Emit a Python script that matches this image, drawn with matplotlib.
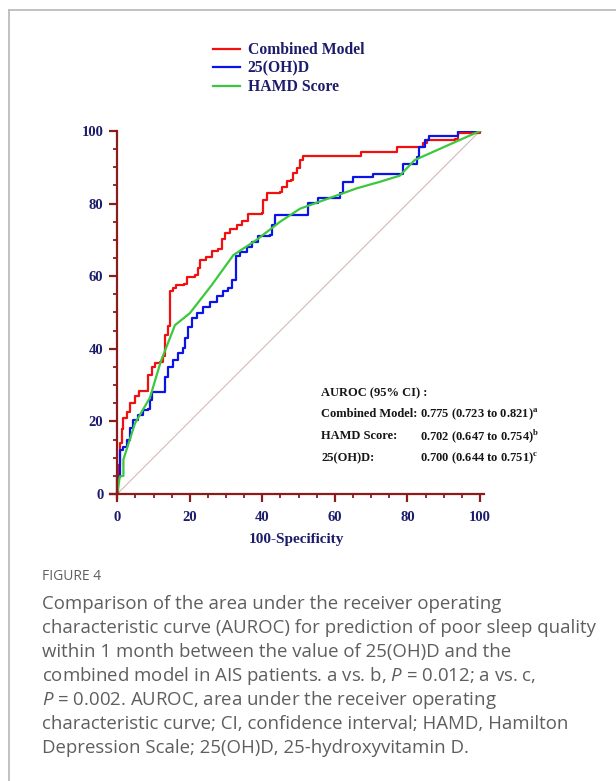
import matplotlib
matplotlib.use("Agg")
import matplotlib.pyplot as plt
from matplotlib.ticker import MultipleLocator

plt.rcParams['mathtext.fontset'] = 'custom'
plt.rcParams['mathtext.rm'] = 'Open Sans'
plt.rcParams['mathtext.it'] = 'Open Sans:italic'
plt.rcParams['mathtext.bf'] = 'Liberation Serif:bold'

# ROC curves (100-Specificity, Sensitivity)
combined_x = [0, 0.3, 0.7, 1.2, 1.7, 2.6, 3.5, 4.8, 6.1, 7.6, 8.5, 9.5, 10.4, 11.8, 12.5, 13.1,
              14.1, 14.5, 15.4, 16.3, 18.5, 19.1, 21.5, 22.3, 22.8, 24.6, 26, 27.7, 28.8, 29.7,
              31.1, 32.9, 34.3, 36.1, 39.8, 40.3, 41.2, 44.9, 45.3, 46.7, 48, 48.5, 49.5, 50.4,
              51.3, 66.9, 67.2, 76.6, 77, 83.9, 84.4, 85.3, 93.1, 94, 100]
combined_y = [0, 8, 14, 18, 21, 22.6, 25, 27, 28.3, 28.3, 32.8, 35, 36, 36.3, 38, 43.8,
              46.3, 56, 56.8, 57.6, 57.8, 59.9, 60.2, 62.3, 64.5, 65.2, 67, 67.5, 70.2, 71.8,
              73, 74, 75.3, 77.2, 77.3, 81, 82.8, 83.1, 84.6, 86.3, 86.5, 88.3, 89.7, 92,
              93.2, 93.2, 94.1, 94.1, 95.5, 95.5, 96.6, 97.6, 97.8, 99.4, 100]

vitd_x = [0, 0, 0.7, 1.7, 2.6, 3.5, 4.4, 5.8, 7.2, 8.5, 9, 9.5, 12.2, 13.2, 14.1, 15.4, 16.8,
          18.2, 18.7, 19.6, 20.5, 21.9, 23.7, 25.6, 27.4, 29.2, 30.6, 31.5, 32.4, 32.6, 33.8,
          35.7, 37.1, 38.9, 42.1, 42.6, 43.5, 52, 52.7, 55.4, 60.5, 61.4, 62.3, 65.1, 70.6,
          78.4, 78.9, 82.1, 82.6, 83.3, 84.8, 86, 93.6, 94, 100]
vitd_y = [0, 4.8, 12.1, 13, 14.9, 18.1, 20.4, 21.8, 23.1, 23.5, 25.9, 28.2, 28.2, 32.3, 35.1,
          36.9, 38.8, 40.1, 42.9, 46.1, 48.4, 49.8, 51.6, 53, 54.6, 55.9, 56.7, 58.9, 59, 65.5,
          66.7, 68.1, 69.5, 71.2, 71.3, 74, 76.9, 76.9, 80.1, 81.5, 81.5, 83, 86, 87.4, 88.1,
          88.2, 90.8, 91, 92.7, 95.5, 97.5, 98.7, 98.7, 100, 100]

hamd_x = [0, 0.7, 1.7, 1.7, 4.9, 9, 12, 15.9, 20, 26, 32, 38.4, 44.9, 50.4, 59.6, 66, 72.4,
          77.9, 82, 100]
hamd_y = [0, 4.8, 5, 9.5, 19.5, 26.5, 36.5, 46.5, 49.8, 57.5, 65.8, 70, 75, 78.6, 81.9, 84.2,
          86, 87.7, 92, 100]

labels = ["Combined Model", "25(OH)D", "HAMD Score"]
auroc_names = ["Combined Model:", "HAMD Score:", "25(OH)D:"]
auroc_vals = ["0.775 (0.723 to 0.821)", "0.702 (0.647 to 0.754)", "0.700 (0.644 to 0.751)"]
auroc_sup = ["a", "b", "c"]

navy = "#1c1c6b"
spine_col = "#8a1c1c"
serif_b = dict(family="Liberation Serif", weight="bold")

W, H = 616, 781
fig = plt.figure(figsize=(W / 100, H / 100), dpi=100)

# card frame (top and left edges only are visible)
fig.add_artist(plt.Line2D([9 / W, 1], [1 - 10 / H, 1 - 10 / H], color="#bcbcbc", lw=1.3))
fig.add_artist(plt.Line2D([9 / W, 9 / W], [0, 1 - 10 / H], color="#bcbcbc", lw=1.3))

ax = fig.add_axes([110 / W, 1 - 497.6 / H, 373.6 / W, 366.6 / H])
ax.set_xlim(-2, 101)
ax.set_ylim(-1, 100)

ax.plot([0, 100], [0, 100], color="#d2b0b0", lw=0.7)
ax.plot(combined_x, combined_y, color="#f01010", lw=1.6, drawstyle="steps-post", label=labels[0])
ax.plot(vitd_x, vitd_y, color="#0a14e6", lw=1.6, drawstyle="steps-post", label=labels[1])
ax.plot(hamd_x, hamd_y, color="#3cc83c", lw=1.6, label=labels[2])

for s in ["top", "right"]:
    ax.spines[s].set_visible(False)
ax.spines["left"].set_position(("data", 0))
ax.spines["bottom"].set_position(("data", 0))
for s in ["left", "bottom"]:
    ax.spines[s].set_color(spine_col)
    ax.spines[s].set_linewidth(1.6)

ax.xaxis.set_major_locator(MultipleLocator(20))
ax.xaxis.set_minor_locator(MultipleLocator(5))
ax.yaxis.set_major_locator(MultipleLocator(20))
ax.yaxis.set_minor_locator(MultipleLocator(5))
ax.tick_params(which="major", length=6, width=1.6, color=spine_col, direction="out")
ax.tick_params(which="minor", length=3, width=1.3, color=spine_col, direction="out")
ax.tick_params(axis="x", which="major", pad=6.2)
ax.tick_params(axis="y", which="major", pad=4)
for lab in ax.get_xticklabels() + ax.get_yticklabels():
    lab.set_fontfamily("Liberation Serif")
    lab.set_fontweight("bold")
    lab.set_fontsize(10.5)
    lab.set_color(navy)
ax.set_xlabel("100-Specificity", fontsize=11, color=navy, labelpad=6.6, **serif_b)

leg = ax.legend(loc="upper left", bbox_to_anchor=(213 / W, 1 - 42.5 / H),
                bbox_transform=fig.transFigure, frameon=False, borderpad=0, borderaxespad=0,
                handlelength=1.7, handletextpad=0.5, labelspacing=0.15,
                prop=dict(family="Liberation Serif", weight="bold", size=11.3))
for t in leg.get_texts():
    t.set_color(navy)

# AUROC annotation
fig.text(321 / W, 1 - 393 / H, "AUROC (95% CI) :", fontsize=9, color="#161616", va="center", **serif_b)
for i, (n, v, s) in enumerate(zip(auroc_names, auroc_vals, auroc_sup)):
    y = 1 - (414 + 22 * i) / H
    fig.text(321 / W, y, n, fontsize=9, color="#161616", va="center", **serif_b)
    fig.text(420 / W, y, v + r"$^{\mathbf{" + s + "}}$", fontsize=9, color="#161616",
             va="center", **serif_b)

# caption
fig.text(42 / W, 1 - 576 / H, "FIGURE 4", fontsize=10, color="#606060", va="center",
         family="Open Sans")
caption = [
    "Comparison of the area under the receiver operating",
    "characteristic curve (AUROC) for prediction of poor sleep quality",
    "within 1 month between the value of 25(OH)D and the",
    "combined model in AIS patients. a vs. b, $P$ = 0.012; a vs. c,",
    "$P$ = 0.002. AUROC, area under the receiver operating",
    "characteristic curve; CI, confidence interval; HAMD, Hamilton",
    "Depression Scale; 25(OH)D, 25-hydroxyvitamin D.",
]
for i, line in enumerate(caption):
    fig.text(42 / W, 1 - (604 + 24 * i) / H, line, fontsize=13.4, color="#5e5e5e",
             va="center", family="Open Sans")

fig.savefig("out.png", dpi=100)
